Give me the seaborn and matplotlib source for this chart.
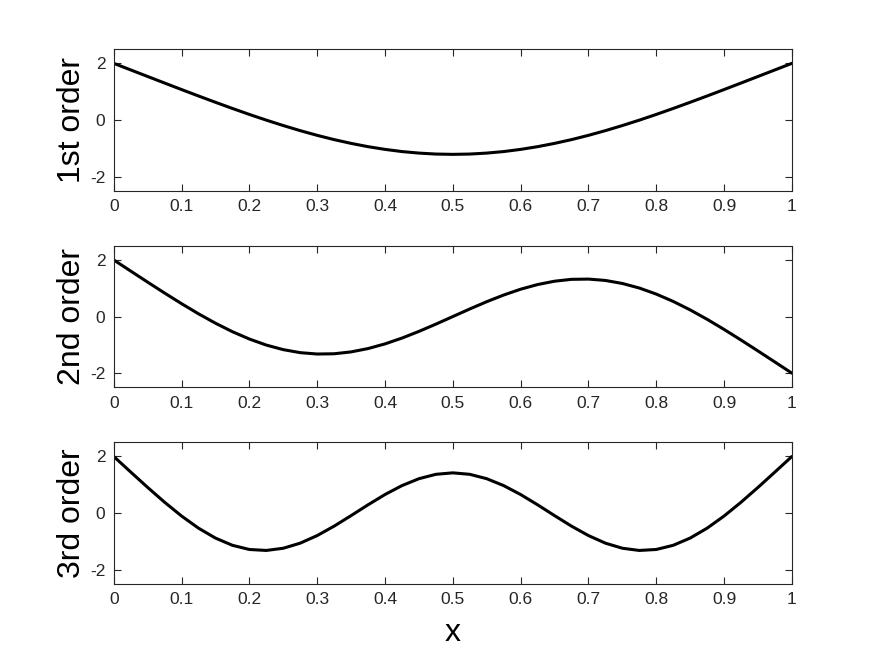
import numpy as np
import pandas as pd
import seaborn as sns
import matplotlib
matplotlib.use("Agg")
import matplotlib.pyplot as plt

# x positions, step 0.025 from 0 to 1
x = [round(0.025 * i, 3) for i in range(41)]

# mode shapes (left half, the rest follows by symmetry)
half_1st = [2.0, 1.768, 1.536, 1.304, 1.074, 0.847, 0.624, 0.406, 0.195, -0.007,
            -0.198, -0.378, -0.544, -0.695, -0.828, -0.944, -1.040, -1.117, -1.171,
            -1.205, -1.216]
half_2nd = [2.0, 1.607, 1.216, 0.830, 0.455, 0.097, -0.235, -0.535, -0.794, -1.008,
            -1.169, -1.276, -1.324, -1.315, -1.249, -1.131, -0.966, -0.761, -0.525,
            -0.268, 0.0]
half_3rd = [2.0, 1.451, 0.907, 0.383, -0.104, -0.533, -0.883, -1.138, -1.286, -1.320,
            -1.242, -1.062, -0.794, -0.461, -0.089, 0.293, 0.656, 0.971, 1.215,
            1.370, 1.422]

y_1st = half_1st + half_1st[-2::-1]
y_2nd = half_2nd + [-v for v in half_2nd[-2::-1]]
y_3rd = half_3rd + half_3rd[-2::-1]

labels = ["1st order", "2nd order", "3rd order"]
series = [y_1st, y_2nd, y_3rd]
xticks = [0, 0.1, 0.2, 0.3, 0.4, 0.5, 0.6, 0.7, 0.8, 0.9, 1]
yticks = [-2, 0, 2]

sns.set_style("ticks")
plt.rcParams["font.family"] = ["Liberation Sans", "DejaVu Sans"]
plt.rcParams["axes.unicode_minus"] = False

fig = plt.figure(figsize=(8.75, 6.56), dpi=100)
positions = [[0.13, 0.7093, 0.775, 0.2157],
             [0.13, 0.4096, 0.775, 0.2157],
             [0.13, 0.11, 0.775, 0.2157]]

grey = "#262626"
for pos, lab, y in zip(positions, labels, series):
    ax = fig.add_axes(pos)
    df = pd.DataFrame({"x": x, "y": y})
    sns.lineplot(data=df, x="x", y="y", ax=ax, color="black", linewidth=2.2)
    ax.set_xlim(0, 1)
    ax.set_ylim(-2.5, 2.5)
    ax.set_xticks(xticks)
    ax.set_xticklabels([f"{t:g}" for t in xticks])
    ax.set_yticks(yticks)
    ax.set_yticklabels([str(t) for t in yticks])
    ax.tick_params(direction="in", top=True, right=True, length=5, width=0.8,
                   labelsize=12.5, colors=grey, pad=6)
    for s in ax.spines.values():
        s.set_color(grey)
        s.set_linewidth(0.8)
    ax.set_xlabel("")
    ax.set_ylabel(lab, fontsize=23, color="black", labelpad=2)

ax.set_xlabel("x", fontsize=23, color="black", labelpad=8)

fig.savefig("out.png", dpi=100, facecolor="white")
